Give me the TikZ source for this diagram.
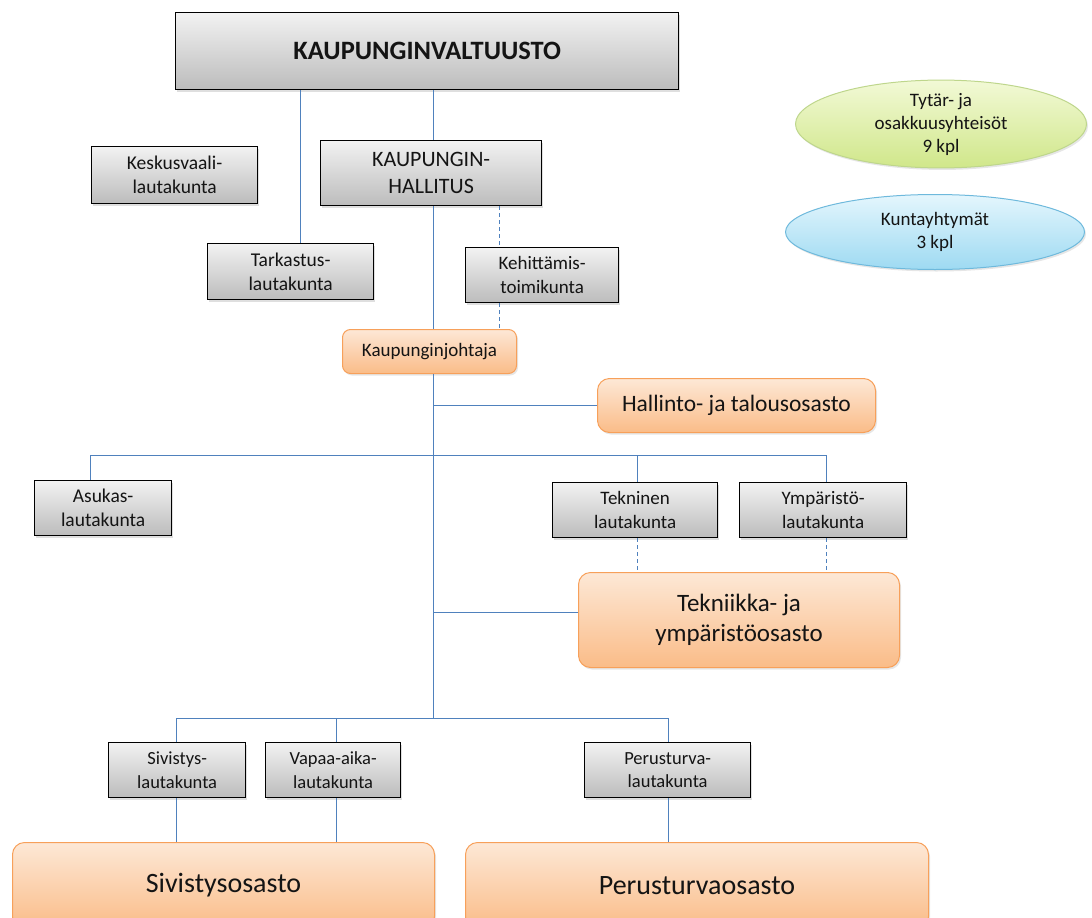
\documentclass[tikz,border=0pt]{standalone}
\usepackage{fontspec}
\setmainfont{Carlito}
\usetikzlibrary{shadows,shapes.geometric}
\definecolor{conncol}{RGB}{79,129,189}
\definecolor{gtop}{RGB}{242,242,242}
\definecolor{gbot}{RGB}{188,188,188}
\definecolor{otop}{RGB}{253,232,214}
\definecolor{obot}{RGB}{250,188,136}
\definecolor{oline}{RGB}{247,160,90}
\definecolor{grtop}{RGB}{242,249,214}
\definecolor{grbot}{RGB}{208,231,138}
\definecolor{grline}{RGB}{190,214,140}
\definecolor{bltop}{RGB}{228,246,253}
\definecolor{blbot}{RGB}{158,218,242}
\definecolor{blline}{RGB}{110,185,220}
\definecolor{txt}{RGB}{20,20,20}
\tikzset{
  gbox/.style={draw=black, line width=1.3pt, top color=gtop, bottom color=gbot,
    anchor=north west, align=center, inner sep=0pt, text=txt,
    drop shadow={shadow xshift=1.5pt, shadow yshift=-2pt, opacity=0.25}},
  obox/.style={draw=oline, line width=1pt, top color=otop, bottom color=obot,
    rounded corners=12pt, anchor=north west, align=center, inner sep=0pt, text=txt,
    drop shadow={shadow xshift=1.5pt, shadow yshift=-2pt, opacity=0.2}},
  ell/.style={ellipse, inner sep=0pt, align=center, text=txt, line width=1pt,
    drop shadow={shadow xshift=1.5pt, shadow yshift=-2pt, opacity=0.2}},
  conn/.style={draw=conncol, line width=0.9pt},
  dconn/.style={draw=conncol, line width=0.9pt, dash pattern=on 4pt off 3pt}
}
\begin{document}
\begin{tikzpicture}[x=1pt,y=-1pt]
\useasboundingbox (0,0) rectangle (1092,918);

% top level
\node[gbox, minimum width=503pt, minimum height=77pt, font=\fontsize{26.5}{31}\selectfont\bfseries] (valt) at (175,12) {KAUPUNGINVALTUUSTO};
\node[gbox, minimum width=166pt, minimum height=57pt, font=\fontsize{19.5}{24}\selectfont] (kesk) at (91,146) {Keskusvaali-\\lautakunta};
\node[gbox, minimum width=221pt, minimum height=65pt, font=\fontsize{22}{27}\selectfont] (hall) at (320,140) {KAUPUNGIN-\\HALLITUS};
\node[gbox, minimum width=166pt, minimum height=56pt, font=\fontsize{19.5}{24}\selectfont] (tark) at (207,243) {Tarkastus-\\lautakunta};
\node[gbox, minimum width=153pt, minimum height=55pt, font=\fontsize{19}{24}\selectfont] (keh) at (465,247) {Kehittämis-\\toimikunta};
\node[obox, rounded corners=8pt, minimum width=174pt, minimum height=44pt, font=\fontsize{19}{23}\selectfont] (kj) at (342,329) {Kaupunginjohtaja};
\node[obox, minimum width=278pt, minimum height=54pt, font=\fontsize{23.5}{28}\selectfont] (hto) at (597,378) {Hallinto- ja talousosasto};

% middle
\node[gbox, minimum width=137pt, minimum height=55pt, font=\fontsize{19.5}{24}\selectfont] (asuk) at (34,480) {Asukas-\\lautakunta};
\node[gbox, minimum width=165pt, minimum height=55pt, font=\fontsize{19}{24}\selectfont] (tekn) at (552,482) {Tekninen\\lautakunta};
\node[gbox, minimum width=167pt, minimum height=55pt, font=\fontsize{19}{24}\selectfont] (ymp) at (739,482) {Ympäristö-\\lautakunta};
\node[obox, minimum width=321pt, minimum height=95pt, font=\fontsize{25}{30}\selectfont] (tyo) at (578,572) {Tekniikka- ja\\ympäristöosasto};

% bottom
\node[gbox, minimum width=137pt, minimum height=55pt, font=\fontsize{18.5}{23.5}\selectfont] (siv) at (108,742) {Sivistys-\\lautakunta};
\node[gbox, minimum width=135pt, minimum height=55pt, font=\fontsize{18.5}{23.5}\selectfont] (vap) at (265,742) {Vapaa-aika-\\lautakunta};
\node[gbox, minimum width=166pt, minimum height=55pt, font=\fontsize{18.5}{23.5}\selectfont] (per) at (584,742) {Perusturva-\\lautakunta};
\node[obox, minimum width=422pt, minimum height=86pt, font=\fontsize{28}{33}\selectfont] (sivo) at (12,842) {Sivistysosasto};
\node[obox, minimum width=463pt, minimum height=86pt, font=\fontsize{28}{33}\selectfont] (pero) at (465,842) {Perusturvaosasto};

% ellipses
\node[ell, draw=grline, top color=grtop, bottom color=grbot, minimum width=291pt, minimum height=80pt, font=\fontsize{19}{23}\selectfont] (tyt) at (941,124) {Tytär- ja\\osakkuusyhteisöt\\9 kpl};
\node[ell, draw=blline, top color=bltop, bottom color=blbot, minimum width=299pt, minimum height=75pt, font=\fontsize{19}{23}\selectfont] (kyh) at (935,232) {Kuntayhtymät\\3 kpl};

% connector coordinates
\coordinate (sp) at (433,0);
\coordinate (bus2) at (433,718);
\coordinate (hb) at (433,405);
\coordinate (tb) at (433,612);

% connectors
\draw[conn] (valt.south -| 300,0) -- (tark.north -| 300,0);
\draw[conn] (valt.south -| sp) -- (hall.north -| sp);
\draw[conn] (hall.south -| sp) -- (kj.north -| sp);
\draw[dconn] (hall.south -| 499,0) -- (keh.north -| 499,0);
\draw[dconn] (keh.south -| 499,0) -- (kj.north -| 499,0);
\draw[conn] (kj.south -| sp) -- (bus2);
\draw[conn] (hb) -- (hb -| hto.west);
\draw[conn] (asuk.north -| 90,0) -- (90,455) -- (826,455) -- (ymp.north -| 826,0);
\draw[conn] (637,455) -- (tekn.north -| 637,0);
\draw[dconn] (tekn.south -| 637,0) -- (tyo.north -| 637,0);
\draw[dconn] (ymp.south -| 826,0) -- (tyo.north -| 826,0);
\draw[conn] (tb) -- (tb -| tyo.west);
\draw[conn] (siv.north -| 176,0) -- (176,718) -- (668,718) -- (per.north -| 668,0);
\draw[conn] (336,718) -- (vap.north -| 336,0);
\draw[conn] (siv.south -| 176,0) -- (sivo.north -| 176,0);
\draw[conn] (vap.south -| 336,0) -- (sivo.north -| 336,0);
\draw[conn] (per.south -| 668,0) -- (pero.north -| 668,0);
\end{tikzpicture}
\end{document}
